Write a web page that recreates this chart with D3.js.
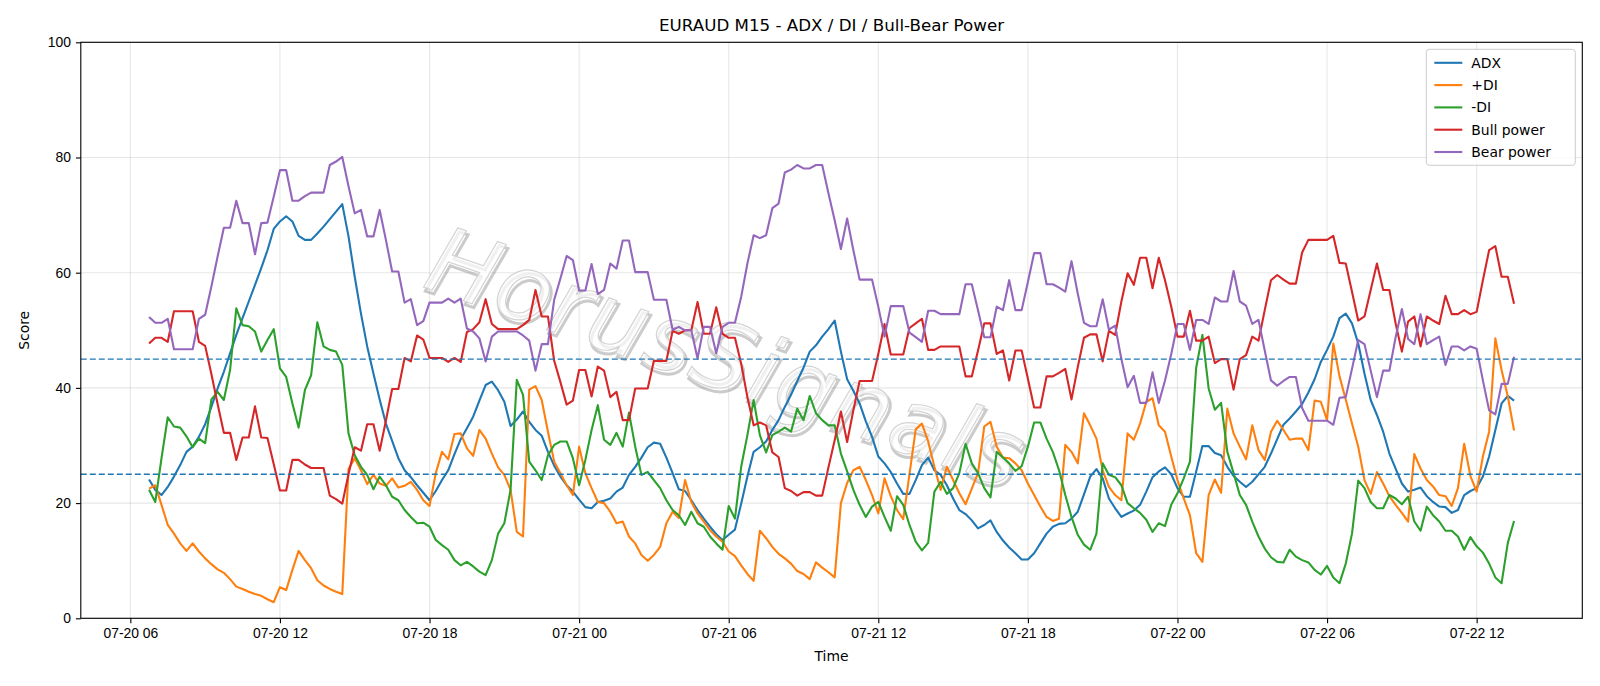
<!DOCTYPE html>
<html>
<head>
<meta charset="utf-8">
<script src="https://cdn.jsdelivr.net/npm/d3@7/dist/d3.min.js"></script>
<style>
  body { margin: 0; background: #fff; }
  svg { display: block; font-family: "DejaVu Sans", sans-serif; }
  .grid line { stroke: #b0b0b0; stroke-opacity: 0.3; stroke-width: 1.1; }
  .series { fill: none; stroke-width: 2.1; stroke-linejoin: round; }
  .axis text { font-size: 13.9px; fill: #000; }
  .axis path { display: none; }
  .axis line { stroke: #000; stroke-width: 1.1; }
  .level { stroke: #1f77b4; stroke-width: 1.4; stroke-dasharray: 6,3; }
</style>
</head>
<body>
<div id="chart"></div>
<script>

// M15 bars, first bar 07-20 06:45 (UTC), one value per bar
var startTime   = "2025-07-20T06:45:00Z";
var stepMinutes = 15;

var adx = [24.1,22.3,21.4,22.8,24.6,26.6,28.9,29.8,31.5,33.7,36.7,39.9,42.8,46.0,49.2,52.1,55.0,57.9,60.8,63.9,
  67.6,68.9,69.8,68.9,66.4,65.7,65.7,66.8,68.0,69.3,70.6,71.9,66.3,59.3,52.9,47.2,42.5,38.0,33.8,30.8,
  27.8,25.7,24.5,23.1,21.8,20.5,22.1,24.0,25.7,28.5,31.1,33.0,35.0,37.8,40.5,41.1,39.6,37.6,33.4,34.5,
  35.9,34.1,32.7,31.7,28.9,26.5,24.6,23.1,22.0,20.6,19.3,19.1,20.2,20.4,20.8,22.0,22.7,24.9,26.3,27.9,
  29.7,30.5,30.3,27.9,25.2,22.4,22.1,20.5,18.8,17.3,15.9,14.6,13.6,14.5,15.4,19.9,24.6,28.9,29.7,30.7,
  32.7,34.4,36.7,38.8,41.2,43.5,46.3,47.4,48.9,50.2,51.7,46.3,41.5,39.5,37.3,34.2,31.5,28.1,26.9,25.4,
  23.4,21.6,21.6,24.0,26.6,27.9,25.7,24.9,23.1,20.8,18.8,18.1,17.0,15.6,16.2,17.0,15.0,13.5,12.3,11.3,
  10.2,10.2,11.3,13.0,14.7,15.9,16.4,16.5,17.3,18.5,21.5,24.6,25.9,24.3,20.8,19.1,17.6,18.2,18.7,19.7,
  22.0,24.5,25.5,26.2,25.0,22.6,21.1,21.1,25.5,29.9,29.9,28.7,28.3,26.3,24.7,23.7,22.8,23.7,25.0,26.3,
  28.6,31.1,33.6,34.7,35.9,37.2,39.2,41.5,44.5,46.6,48.9,52.1,52.9,51.2,47.7,42.5,37.9,35.3,32.4,28.6,
  26.0,23.4,22.0,22.3,22.7,21.2,20.2,19.4,19.3,18.3,18.8,21.4,22.1,22.6,24.6,28.1,32.7,37.3,38.6,37.8];

var plusDI = [22.5,23.1,19.7,16.2,14.7,13.0,11.7,13.0,11.6,10.4,9.4,8.5,7.9,6.8,5.5,5.1,4.6,4.2,3.9,3.3,
  2.8,5.4,4.9,8.4,11.7,10.1,8.7,6.6,5.7,5.1,4.6,4.2,25.9,27.8,25.7,23.3,24.9,23.4,23.0,24.3,
  22.7,23.0,23.7,22.3,20.5,19.5,25.2,28.9,27.6,32.0,32.1,29.5,28.2,32.7,31.2,28.6,26.2,24.9,22.3,15.0,
  14.2,39.7,40.3,37.9,32.4,27.2,25.2,23.1,21.4,29.8,25.2,22.6,20.2,20.0,18.5,16.5,16.8,14.2,13.0,11.0,
  10.0,11.0,12.4,16.5,18.5,17.4,24.0,20.2,18.2,16.8,15.3,14.2,13.3,11.6,10.8,9.2,7.7,6.5,15.2,13.9,
  12.4,11.2,10.4,9.5,8.2,7.7,6.8,9.7,8.8,8.0,7.1,20.0,23.5,25.7,26.3,24.0,21.4,18.2,24.3,21.2,
  18.8,17.2,25.0,32.8,33.8,30.7,26.3,22.3,26.3,24.0,21.7,19.8,22.5,25.2,33.3,34.1,29.8,27.9,27.8,26.9,
  25.7,23.4,21.4,19.4,17.6,16.9,17.3,30.1,28.9,26.9,35.6,33.5,31.2,25.7,22.8,21.4,20.5,32.1,31.0,33.8,
  37.6,38.2,33.5,32.4,28.1,24.0,20.8,17.9,11.3,9.8,21.4,24.1,21.8,36.4,32.1,29.8,27.6,33.5,29.2,27.5,
  32.4,34.3,32.7,31.0,31.2,31.2,29.2,37.8,37.6,34.4,47.7,42.0,38.0,33.8,29.8,24.0,21.6,25.4,23.4,21.2,
  19.7,18.3,16.8,28.5,26.0,24.0,22.9,21.4,21.2,19.5,22.6,30.3,24.7,22.0,28.1,32.4,48.6,43.1,38.5,32.6];

var minusDI = [22.3,20.2,27.8,34.9,33.3,33.1,31.6,29.7,31.2,30.4,38.0,39.3,37.9,43.1,53.8,50.9,50.7,49.8,46.3,48.3,
  50.2,43.4,41.9,37.3,33.1,39.6,42.2,51.4,47.2,46.6,46.3,44.0,32.1,28.3,26.3,24.9,22.4,24.6,23.1,21.1,
  20.5,18.8,17.6,16.5,16.6,15.9,13.6,12.7,11.9,10.1,9.2,9.8,9.0,8.1,7.5,10.1,14.7,16.5,22.3,41.4,
  38.8,27.2,25.7,24.0,28.3,30.1,30.7,30.7,27.8,23.1,27.5,32.7,37.0,31.0,30.1,32.2,29.8,35.7,29.8,24.9,
  25.4,24.0,22.6,20.5,18.8,17.9,16.2,18.5,16.5,15.9,14.2,13.0,11.9,19.5,17.3,26.3,31.8,37.9,31.8,28.8,
  31.8,32.4,33.1,32.4,36.4,34.4,38.6,35.6,34.4,33.5,33.5,28.6,25.5,22.3,19.7,17.6,19.4,20.2,17.6,15.2,
  21.2,19.7,16.2,13.3,11.8,13.1,22.0,23.7,21.6,22.6,25.2,30.3,26.9,25.2,22.6,21.0,28.9,27.9,26.9,25.6,
  26.4,29.8,34.0,34.0,31.2,28.9,25.7,21.4,17.6,14.5,12.8,11.9,14.7,26.9,24.9,24.5,23.1,20.0,19.1,18.3,
  17.1,15.0,16.5,16.0,19.7,21.7,24.3,27.2,43.5,49.2,39.9,36.2,37.4,28.9,25.2,21.4,19.7,16.8,14.2,12.1,
  10.6,9.8,9.7,11.9,10.7,10.1,9.7,8.4,7.6,9.1,7.1,6.1,9.5,14.7,23.9,22.6,20.2,19.1,19.1,21.4,
  20.8,19.8,21.1,16.8,15.2,19.4,17.9,16.8,15.2,15.2,14.2,11.9,14.1,12.5,11.4,9.5,7.1,6.1,13.1,16.9];

var bullPower = [47.7,48.7,48.7,48.0,53.3,53.3,53.3,53.3,48.0,47.3,42.4,37.2,32.2,32.2,27.5,31.4,31.4,36.8,31.4,31.3,
  26.8,22.2,22.2,27.5,27.5,26.7,26.1,26.1,26.1,21.3,20.7,19.9,25.0,29.7,29.1,33.7,33.7,29.1,34.3,39.8,
  39.8,45.2,44.6,49.1,48.4,45.2,45.2,45.2,44.5,45.2,44.5,49.7,50.2,51.4,55.4,51.1,50.2,50.2,50.2,50.2,
  50.9,51.8,57.0,52.4,52.4,44.7,41.0,37.1,37.8,43.1,43.1,38.5,43.7,43.0,38.4,39.3,34.4,34.4,39.9,39.9,
  39.9,44.7,44.7,44.7,49.9,49.4,50.0,50.0,54.9,49.4,49.4,54.0,49.4,48.7,48.7,44.2,38.4,33.5,34.0,33.5,
  28.8,28.0,22.6,22.1,21.3,21.9,21.9,21.3,21.3,26.2,30.9,35.9,30.6,36.1,41.2,41.2,41.2,45.9,51.1,45.8,
  45.8,45.8,50.4,51.2,52.0,46.6,46.6,47.2,47.2,47.2,47.2,42.0,42.0,46.5,51.2,51.2,45.9,46.5,41.3,46.5,
  46.5,41.6,36.6,36.6,42.0,42.0,42.6,43.3,38.0,43.6,48.7,49.3,49.3,44.6,49.9,49.2,55.0,59.9,57.9,62.6,
  62.6,57.3,62.6,58.7,54.1,48.9,48.9,53.4,48.2,48.2,48.9,44.3,45.0,45.0,39.7,45.0,45.7,48.9,48.2,53.5,
  58.7,59.6,58.8,58.1,58.1,63.5,65.7,65.7,65.7,65.7,66.4,61.7,61.6,56.7,51.7,52.4,57.0,61.6,57.0,57.0,
  51.2,46.3,51.5,52.4,47.2,52.4,51.7,51.1,56.0,52.8,52.8,53.5,52.8,53.2,58.7,63.9,64.6,59.3,59.3,54.6];

var bearPower = [52.3,51.3,51.3,52.0,46.7,46.7,46.7,46.7,52.0,52.7,57.6,62.8,67.8,67.8,72.5,68.6,68.6,63.2,68.6,68.7,
  73.2,77.8,77.8,72.5,72.5,73.3,73.9,73.9,73.9,78.7,79.3,80.1,75.0,70.3,70.9,66.3,66.3,70.9,65.7,60.2,
  60.2,54.8,55.4,50.9,51.6,54.8,54.8,54.8,55.5,54.8,55.5,50.3,49.8,48.6,44.6,48.9,49.8,49.8,49.8,49.8,
  49.1,48.2,43.0,47.6,47.6,55.3,59.0,62.9,62.2,56.9,56.9,61.5,56.3,57.0,61.6,60.7,65.6,65.6,60.1,60.1,
  60.1,55.3,55.3,55.3,50.1,50.6,50.0,50.0,45.1,50.6,50.6,46.0,50.6,51.3,51.3,55.8,61.6,66.5,66.0,66.5,
  71.2,72.0,77.4,77.9,78.7,78.1,78.1,78.7,78.7,73.8,69.1,64.1,69.4,63.9,58.8,58.8,58.8,54.1,48.9,54.2,
  54.2,54.2,49.6,48.8,48.0,53.4,53.4,52.8,52.8,52.8,52.8,58.0,58.0,53.5,48.8,48.8,54.1,53.5,58.7,53.5,
  53.5,58.4,63.4,63.4,58.0,58.0,57.4,56.7,62.0,56.4,51.3,50.7,50.7,55.4,50.1,50.8,45.0,40.1,42.1,37.4,
  37.4,42.7,37.4,41.3,45.9,51.1,51.1,46.6,51.8,51.8,51.1,55.7,55.0,55.0,60.3,55.0,54.3,51.1,51.8,46.5,
  41.3,40.4,41.2,41.9,41.9,36.5,34.3,34.3,34.3,34.3,33.6,38.3,38.4,43.3,48.3,47.6,43.0,38.4,43.0,43.0,
  48.8,53.7,48.5,47.6,52.8,47.6,48.3,48.9,44.0,47.2,47.2,46.5,47.2,46.8,41.3,36.1,35.4,40.7,40.7,45.4];

var seriesNames  = ["ADX", "+DI", "-DI", "Bull power", "Bear power"];
var seriesColors = ["#1f77b4", "#ff7f0e", "#2ca02c", "#d62728", "#9467bd"];
var levels       = [25, 45];
var yTicks       = [0, 20, 40, 60, 80, 100];
var chartTitle   = "EURAUD M15 - ADX / DI / Bull-Bear Power";
var watermark    = "HorusSignals";


var TrendChart = function(opts) {
  this.element = opts.element;
  this.series  = opts.series;
  this.times   = opts.times;
  this.margin  = opts.margin;
  this.fullW   = opts.width;
  this.fullH   = opts.height;
  this.width   = opts.width - this.margin.left - this.margin.right;
  this.height  = opts.height - this.margin.top - this.margin.bottom;

  this.draw();
}

TrendChart.prototype.draw = function() {

  this.svg = this.element.append("svg")
    .attr("width", this.fullW)
    .attr("height", this.fullH);

  this.plot = this.svg.append("g")
    .attr("transform", "translate(" + this.margin.left + "," + this.margin.top + ")");

  this.createScales();
  this.addGrid();
  this.addWatermark();
  this.addLines();
  this.addLevels();
  this.addAxes();
  this.addLegend();
  this.addLabels();
}

TrendChart.prototype.createScales = function() {

  // matplotlib style 5% padding on the time axis
  var t0 = this.times[0].getTime(),
      t1 = this.times[this.times.length - 1].getTime(),
      pad = (t1 - t0) * 0.05;

  this.xScale = d3.scaleUtc()
    .domain([new Date(t0 - pad), new Date(t1 + pad)])
    .range([0, this.width]);

  this.yScale = d3.scaleLinear()
    .domain([0, 100])
    .range([this.height, 0]);

  this.xTicks = d3.utcHour.every(6).range(this.xScale.domain()[0], this.xScale.domain()[1]);
}

TrendChart.prototype.addGrid = function() {

  var _this = this;

  this.plot.append("g")
    .attr("class", "grid")
    .selectAll("line")
    .data(this.xTicks)
    .join("line")
    .attr("x1", d => _this.xScale(d)).attr("x2", d => _this.xScale(d))
    .attr("y1", 0).attr("y2", this.height);

  this.plot.append("g")
    .attr("class", "grid")
    .selectAll("line")
    .data(yTicks)
    .join("line")
    .attr("x1", 0).attr("x2", this.width)
    .attr("y1", d => _this.yScale(d)).attr("y2", d => _this.yScale(d));
}

TrendChart.prototype.addWatermark = function() {

  // faint embossed brand text, diagonal, behind the lines
  var g = this.plot.append("g")
    .attr("transform", "translate(" + this.xScale(new Date("2025-07-21T05:30:00Z")) + "," + this.yScale(40) + ") rotate(19)");

  // shadow edge
  g.append("text")
    .attr("x", 3).attr("y", 3)
    .attr("text-anchor", "middle")
    .attr("font-size", 92)
    .attr("font-style", "italic")
    .attr("letter-spacing", 2)
    .attr("fill", "none")
    .attr("stroke", "#8c8c8c")
    .attr("stroke-opacity", 0.45)
    .attr("stroke-width", 3)
    .text(watermark);

  g.append("text")
    .attr("text-anchor", "middle")
    .attr("font-size", 92)
    .attr("font-style", "italic")
    .attr("letter-spacing", 2)
    .attr("fill", "#ffffff")
    .attr("fill-opacity", 0.7)
    .attr("stroke", "#d4d4d4")
    .attr("stroke-width", 1.2)
    .text(watermark);
}

TrendChart.prototype.addLines = function() {

  var _this = this;

  var line = d3.line()
    .x((d, i) => _this.xScale(_this.times[i]))
    .y(d => _this.yScale(d));

  this.plot.selectAll(".series")
    .data(this.series)
    .join("path")
    .attr("class", "series")
    .attr("stroke", d => d.color)
    .attr("d", d => line(d.values));
}

TrendChart.prototype.addLevels = function() {

  var _this = this;

  this.plot.selectAll(".level")
    .data(levels)
    .join("line")
    .attr("class", "level")
    .attr("x1", 0).attr("x2", this.width)
    .attr("y1", d => _this.yScale(d)).attr("y2", d => _this.yScale(d));
}

TrendChart.prototype.addAxes = function() {

  var xAxis = d3.axisBottom(this.xScale)
    .tickValues(this.xTicks)
    .tickSize(4.9)
    .tickPadding(4.9)
    .tickFormat(d3.utcFormat("%m-%d %H"));

  var yAxis = d3.axisLeft(this.yScale)
    .tickValues(yTicks)
    .tickSize(4.9)
    .tickPadding(4.9)
    .tickFormat(d3.format("d"));

  this.plot.append("g")
    .attr("class", "axis xaxis")
    .attr("transform", "translate(0," + this.height + ")")
    .call(xAxis);

  this.plot.append("g")
    .attr("class", "axis yaxis")
    .call(yAxis);

  // frame
  this.plot.append("rect")
    .attr("width", this.width)
    .attr("height", this.height)
    .attr("fill", "none")
    .attr("stroke", "#000")
    .attr("stroke-width", 1.1);
}

TrendChart.prototype.addLegend = function() {

  var boxW = 149, rowH = 22.3;

  var legend = this.plot.append("g")
    .attr("transform", "translate(" + (this.width - 7 - boxW) + ",7)");

  legend.append("rect")
    .attr("width", boxW)
    .attr("height", 116)
    .attr("rx", 3)
    .attr("fill", "#fff")
    .attr("fill-opacity", 0.8)
    .attr("stroke", "#cccccc");

  var rows = legend.selectAll(".row")
    .data(this.series)
    .join("g")
    .attr("transform", (d, i) => "translate(0," + (13.5 + i * rowH) + ")");

  rows.append("line")
    .attr("x1", 8).attr("x2", 36)
    .attr("stroke", d => d.color)
    .attr("stroke-width", 2.1);

  rows.append("text")
    .attr("x", 45)
    .attr("dy", "0.35em")
    .attr("font-size", 13.9)
    .text(d => d.name);
}

TrendChart.prototype.addLabels = function() {

  this.svg.append("text")
    .attr("x", this.margin.left + this.width / 2)
    .attr("y", 31)
    .attr("text-anchor", "middle")
    .attr("font-size", 16.7)
    .text(chartTitle);

  this.svg.append("text")
    .attr("x", this.margin.left + this.width / 2)
    .attr("y", 661)
    .attr("text-anchor", "middle")
    .attr("font-size", 13.9)
    .text("Time");

  this.svg.append("text")
    .attr("transform", "translate(29," + (this.margin.top + this.height / 2) + ") rotate(-90)")
    .attr("text-anchor", "middle")
    .attr("font-size", 13.9)
    .text("Score");
}


var t0 = new Date(startTime).getTime();
var times = adx.map((d, i) => new Date(t0 + i * stepMinutes * 60000));

var allValues = [adx, plusDI, minusDI, bullPower, bearPower];

new TrendChart({
  element: d3.select("#chart"),
  times: times,
  series: seriesNames.map((name, k) => ({ name: name, color: seriesColors[k], values: allValues[k] })),
  margin: { top: 42.3, right: 17.7, bottom: 67.7, left: 80.8 },
  width: 1600,
  height: 686
});

</script>
</body>
</html>
